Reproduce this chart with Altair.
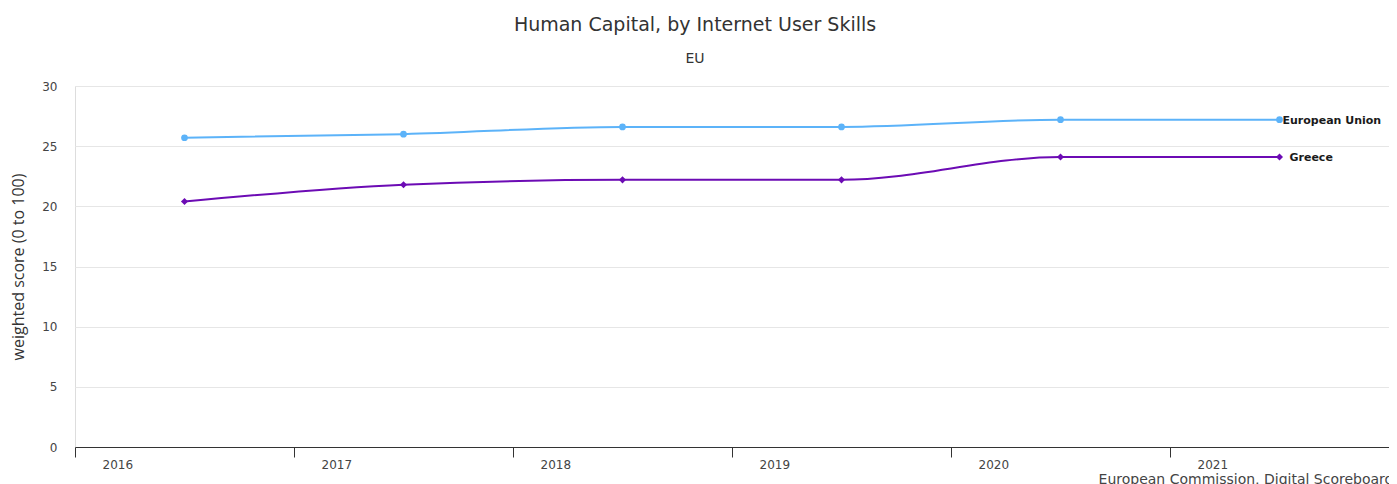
import altair as alt
import pandas as pd

years = [2016, 2017, 2018, 2019, 2020, 2021]
eu_values = [25.7, 26.0, 26.6, 26.6, 27.2, 27.2]
greece_values = [20.4, 21.8, 22.2, 22.2, 24.1, 24.1]
series_names = ["European Union", "Greece"]
series_colors = ["#5cb3f9", "#6c0bb4"]
y_ticks = [0, 5, 10, 15, 20, 25, 30]
x_ticks = [2016, 2017, 2018, 2019, 2020, 2021, 2022]

rows = []
for y, v in zip(years, eu_values):
    rows.append({"year": y, "series": series_names[0], "value": v})
for y, v in zip(years, greece_values):
    rows.append({"year": y, "series": series_names[1], "value": v})
df = pd.DataFrame(rows)

FONT = "DejaVu Sans"

base = alt.Chart(df).transform_calculate(xpos="datum.year + 0.5")

x_enc = alt.X(
    "xpos:Q",
    scale=alt.Scale(domain=[2016, 2022], nice=False, zero=False),
    axis=alt.Axis(
        values=x_ticks,
        format="d",
        labelExpr="datum.value == 2022 ? '' : datum.label",
        labelAlign="left",
        labelOffset=27,
        labelPadding=2,
        labelFontSize=12,
        labelColor="#444444",
        labelFont=FONT,
        tickSize=10,
        tickColor="#333333",
        domainColor="#333333",
        grid=False,
        title="European Commission, Digital Scoreboard",
        titleAnchor="end",
        titleAlign="right",
        titleBaseline="top",
        titleFontSize=14,
        titleFontWeight="normal",
        titleColor="#444444",
        titleFont=FONT,
        titleX=1318,
        titleY=25,
    ),
)
y_enc = alt.Y(
    "value:Q",
    scale=alt.Scale(domain=[0, 30], nice=False),
    axis=alt.Axis(
        values=y_ticks,
        labelFontSize=12,
        labelColor="#444444",
        labelFont=FONT,
        labelPadding=18,
        domain=False,
        ticks=False,
        gridColor="#e6e6e6",
        title="weighted score (0 to 100)",
        titleFontSize=16,
        titleFontWeight="normal",
        titleColor="#333333",
        titleFont="Open Sans",
        titleBaseline="middle",
        titleX=-57,
    ),
)
color_enc = alt.Color(
    "series:N",
    scale=alt.Scale(domain=series_names, range=series_colors),
    legend=None,
)

lines = base.mark_line(interpolate="monotone", strokeWidth=2).encode(
    x=x_enc, y=y_enc, color=color_enc, detail="series:N"
)
eu_pts = base.transform_filter(alt.datum.series == series_names[0]).mark_point(
    shape="circle", filled=True, size=45, opacity=1
).encode(x="xpos:Q", y="value:Q", color=color_enc)
gr_pts = base.transform_filter(alt.datum.series == series_names[1]).mark_point(
    shape="diamond", filled=True, size=50, opacity=1
).encode(x="xpos:Q", y="value:Q", color=color_enc)

last = base.transform_filter(alt.datum.year == 2021)
eu_lbl = last.transform_filter(alt.datum.series == series_names[0]).mark_text(
    align="left", baseline="middle", dx=3, dy=1, fontSize=11, fontWeight="bold",
    font=FONT, color="#1a1a1a"
).encode(x="xpos:Q", y="value:Q", text="series:N")
gr_lbl = last.transform_filter(alt.datum.series == series_names[1]).mark_text(
    align="left", baseline="middle", dx=10, dy=1, fontSize=11, fontWeight="bold",
    font=FONT, color="#1a1a1a"
).encode(x="xpos:Q", y="value:Q", text="series:N")

chart = alt.layer(lines, eu_pts, gr_pts, eu_lbl, gr_lbl).properties(
    width=1314,
    height=361,
    autosize=alt.AutoSizeParams(type="none"),
    padding={"left": 67, "top": 78, "right": 0, "bottom": 37},
    title=alt.TitleParams(
        text="Human Capital, by Internet User Skills",
        subtitle="EU",
        anchor="middle",
        dx=-37,
        offset=14,
        font=FONT,
        fontSize=19,
        fontWeight="normal",
        color="#333333",
        subtitleFont=FONT,
        subtitleFontSize=14,
        subtitleColor="#333333",
        subtitlePadding=17,
    ),
).configure_view(stroke=None).configure(background="white")

chart.save("out.html", embed_options={"renderer": "svg", "actions": False})
